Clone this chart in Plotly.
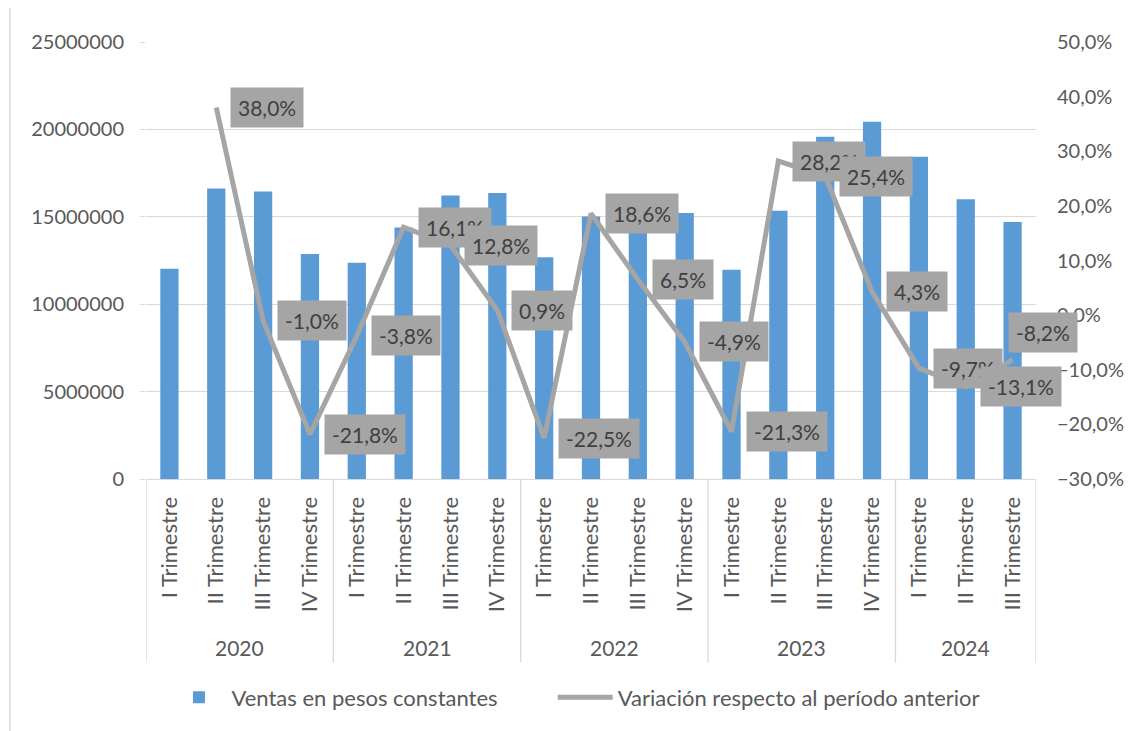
import plotly.graph_objects as go

years = ["2020", "2021", "2022", "2023", "2024"]
quarters = ["I Trimestre", "II Trimestre", "III Trimestre", "IV Trimestre"] * 4 + ["I Trimestre", "II Trimestre", "III Trimestre"]
year_of_point = ["2020"] * 4 + ["2021"] * 4 + ["2022"] * 4 + ["2023"] * 4 + ["2024"] * 3

ventas = [12030000, 16620000, 16450000, 12870000,
          12370000, 14390000, 16220000, 16360000,
          12680000, 15020000, 15990000, 15220000,
          11970000, 15350000, 19580000, 20440000,
          18440000, 16000000, 14700000]

variacion = [None, 38.0, -1.0, -21.8,
             -3.8, 16.1, 12.8, 0.9,
             -22.5, 18.6, 6.5, -4.9,
             -21.3, 28.2, 25.4, 4.3,
             -9.7, -13.1, -8.2]

FONT = "Lato"
TXT = "#595959"
GRID = "#D9D9D9"
BAR = "#5B9BD5"
LINE = "#A5A5A5"

idx = list(range(len(ventas)))
var_frac = [None if v is None else v / 100 for v in variacion]

fig = go.Figure()
fig.add_trace(go.Bar(
    x=idx, y=ventas, name="Ventas en pesos constantes",
    marker=dict(color=BAR, line=dict(width=0)), legend="legend",
))
fig.add_trace(go.Scatter(
    x=idx, y=var_frac, name="Variación respecto al período anterior",
    mode="lines", line=dict(color=LINE, width=5), yaxis="y2", legend="legend2",
))

# data labels (to the right of each point; the last one sits above-right)
for i, v in enumerate(variacion):
    if v is None:
        continue
    last = i == len(variacion) - 1
    fig.add_annotation(
        x=i, y=v / 100, xref="x", yref="y2",
        text=f"{v:.1f}".replace(".", ",") + "%",
        showarrow=False, xanchor="left", yanchor="middle",
        xshift=-5 if last else 14, yshift=27 if last else 0,
        bgcolor=LINE, borderpad=7,
        font=dict(family=FONT, size=21, color="#404040"),
    )

# year group labels and dividers
bounds = []
start = 0
for y in years:
    n = year_of_point.count(y)
    center = start + (n - 1) / 2
    fig.add_annotation(
        x=center, y=-0.386, xref="x", yref="paper", text=y, showarrow=False,
        font=dict(family=FONT, size=21, color=TXT), yanchor="middle",
    )
    bounds.append(start - 0.5)
    start += n
bounds.append(start - 0.5)
for b in bounds:
    fig.add_shape(type="line", x0=b, x1=b, y0=0, y1=-0.42, xref="x", yref="paper",
                  line=dict(color=GRID, width=1.3))

# outer chart border
fig.add_shape(type="line", xref="paper", yref="paper",
              x0=-0.153, x1=-0.153, y0=-0.6, y1=1.2, line=dict(color=GRID, width=1.5))

legend_common = dict(orientation="h", xanchor="left", y=-0.5, yanchor="middle",
                     font=dict(family=FONT, size=22, color=TXT), itemwidth=55,
                     bgcolor="rgba(0,0,0,0)")

fig.update_layout(
    width=1129, height=723,
    margin=dict(l=138, r=101, t=34, b=252),
    paper_bgcolor="white", plot_bgcolor="white",
    separators=",.",
    font=dict(family=FONT, size=20, color=TXT),
    bargap=0.61,
    showlegend=True,
    legend=dict(x=0.023, **legend_common),
    legend2=dict(x=0.457, **legend_common),
    xaxis=dict(
        range=[-0.5, len(ventas) - 0.5],
        tickmode="array", tickvals=idx, ticktext=quarters, tickangle=-90,
        showgrid=False, zeroline=False, showline=True, linecolor=GRID, linewidth=1.3,
        ticks="", ticklabelstandoff=8,
        tickfont=dict(family=FONT, size=22, color=TXT),
    ),
    yaxis=dict(
        range=[0, 25000000], dtick=5000000, tickformat="d",
        showgrid=True, gridcolor=GRID, gridwidth=1.3, zeroline=False, showline=False,
        ticks="outside", ticklen=5, tickcolor=GRID, ticklabelstandoff=12,
        tickfont=dict(family=FONT, size=20, color=TXT),
    ),
    yaxis2=dict(
        range=[-0.3, 0.5], dtick=0.1, tickformat=".1%", overlaying="y", side="right",
        showgrid=False, zeroline=False, showline=False,
        ticks="", ticklabelstandoff=20,
        tickfont=dict(family=FONT, size=20, color=TXT),
    ),
)

fig.write_html("out.html")
